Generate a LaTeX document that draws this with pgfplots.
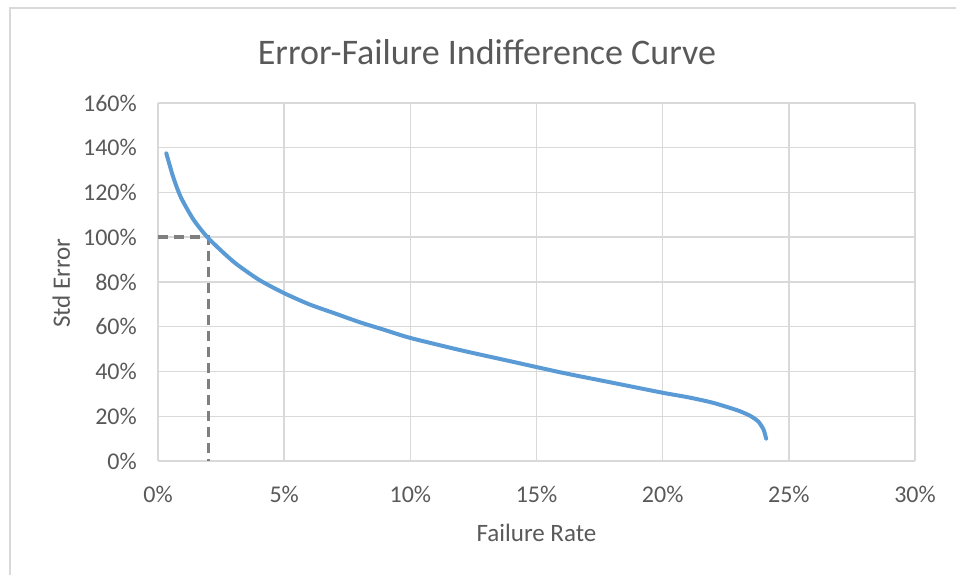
\documentclass[border=0pt]{standalone}
\usepackage{pgfplots}
\pgfplotsset{compat=1.18}
\usepackage{fontspec}
\setmainfont{Carlito}
\definecolor{txt}{HTML}{595959}
\definecolor{gridc}{HTML}{D9D9D9}
\definecolor{curve}{HTML}{5B9BD5}
\definecolor{dashc}{HTML}{7F7F7F}
\begin{document}
\begin{tikzpicture}
\useasboundingbox (-158bp,-114bp) rectangle (798bp,461bp);
\draw[gridc, line width=1.5bp] (-148bp,-120bp) -- (-148bp,453bp) -- (810bp,453bp);
\begin{axis}[
  at={(0,0)}, anchor=south west,
  scale only axis, width=757bp, height=358bp,
  xmin=0, xmax=30, ymin=0, ymax=160,
  xtick={0,5,...,30}, ytick={0,20,...,160},
  xticklabel={\pgfmathprintnumber{\tick}\%},
  yticklabel={\pgfmathprintnumber{\tick}\%},
  /pgf/number format/assume math mode=true,
  grid=major,
  major grid style={gridc, line width=1.5bp},
  axis line style={draw=none},
  major tick length=0pt,
  tick label style={font=\fontsize{24bp}{28bp}\selectfont, text=txt, inner sep=0pt},
  xticklabel style={anchor=north, yshift=-25bp},
  yticklabel style={anchor=east, xshift=-21bp},
  xlabel={Failure Rate},
  ylabel={Std Error},
  label style={font=\fontsize{25bp}{30bp}\selectfont, text=txt, inner sep=0pt},
  xlabel style={at={(axis description cs:0.5,0)}, anchor=base, yshift=-80bp},
  ylabel style={at={(axis description cs:0,0.497)}, anchor=base, yshift=88bp},
  clip=false,
]
\addplot[dashc, line width=3.5bp, dash pattern=on 10bp off 6bp] coordinates {(0,100) (2,100) (2,0)};
\addplot[curve, line width=4bp, smooth, tension=0.4, line cap=round] coordinates {
(0.33,137.5) (0.6,127) (0.9,118) (1.4,108) (2.0,99.5) (3.0,89) (4.0,81)
(5.0,75) (6.0,70) (7.0,66) (8.0,62) (9.0,58.5) (10.0,55) (12.0,49.5)
(14.0,44.5) (16.0,39.5) (18.0,35) (20.0,30.5) (21.0,28.5) (22.0,26)
(23.0,22.5) (23.5,20) (23.8,17.5) (24.0,14) (24.1,10)
};
\end{axis}
\node[anchor=base, text=txt, font=\fontsize{36bp}{42bp}\selectfont, inner sep=0pt] at (329bp,396bp) {Error-Failure Indifference Curve};
\end{tikzpicture}
\end{document}
